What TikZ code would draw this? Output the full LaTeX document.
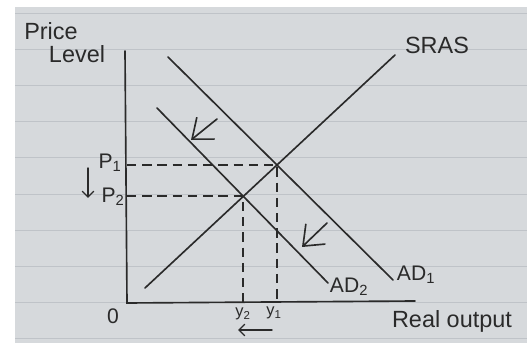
\documentclass[tikz,border=0pt]{standalone}
\usepackage{fontspec}
\setmainfont{Liberation Sans}
\usetikzlibrary{arrows.meta}
\definecolor{paper}{HTML}{D6D9DC}
\definecolor{ruling}{HTML}{BFC3C8}
\definecolor{ink}{HTML}{2A2A2A}

\begin{document}
\begin{tikzpicture}[
    x=0.03cm, y=-0.03cm,
    curve/.style={draw=ink, line width=1.4pt, line cap=round},
    guide/.style={draw=ink, line width=1.5pt, dash pattern=on 8pt off 5pt},
    move/.style={curve, -{Straight Barb[length=15pt, width=24pt]}},
    hint/.style={curve, line width=1.2pt, -{Straight Barb[length=5pt, width=10pt]}},
    lbl/.style={text=ink, inner sep=0pt, font=\fontsize{18}{18}\selectfont},
    title/.style={lbl, font=\fontsize{20}{20}\selectfont},
    tiny/.style={lbl, font=\fontsize{14}{14}\selectfont},
]
    \useasboundingbox (0,0) rectangle (531,343);
    \fill[paper] (15,7) rectangle (527,343);
    \foreach \k in {0,...,9}
        \draw[ruling, line width=0.8pt] (15,{13+36.2*\k}) -- (527,{13+36.2*\k});

    \coordinate (ytop) at (125,51);
    \coordinate (orig) at (127,303);
    \coordinate (xend) at (415,301);
    \coordinate (ad1a) at (168,57);  \coordinate (ad1b) at (393,280);
    \coordinate (ad2a) at (157,108); \coordinate (ad2b) at (328,283);
    \coordinate (sra) at (145,288);  \coordinate (srb) at (395,55);
    \coordinate (e1) at (intersection of ad1a--ad1b and sra--srb);
    \coordinate (e2) at (intersection of ad2a--ad2b and sra--srb);

    \node[title] (price) at (51,31) {Price};
    \node[title] (level) at (77,54) {Level};
    \node[title] (sras)  at (437,45) {SRAS};
    \node[lbl] (ad1) at (416,275) {AD\textsubscript{1}};
    \node[lbl] (ad2) at (349,287) {AD\textsubscript{2}};
    \node[lbl] (p1)  at (110,163) {P\textsubscript{1}};
    \node[lbl] (p2)  at (113,197) {P\textsubscript{2}};
    \node[lbl] (zero) at (113,316) {0};
    \node[tiny] (y2) at (243,314) {y\textsubscript{2}};
    \node[tiny] (y1) at (274,313) {y\textsubscript{1}};
    \node[title] (output) at (452,321) {Real output};

    \draw[curve] (ytop) -- (orig) -- (xend);
    \draw[curve] (ad1a) -- (ad1b);
    \draw[curve] (ad2a) -- (ad2b);
    \draw[curve] (sra) -- (srb);

    \draw[guide] (e1 -| orig) -- (e1) -- (e1 |- orig);
    \draw[guide] (e2 -| orig) -- (e2) -- (e2 |- orig);

    \draw[move] (217,119) coordinate (s1a) -- (191,140) coordinate (s1b);
    \draw[move] (327,223) coordinate (s2a) -- (302,247) coordinate (s2b);
    \draw[hint] (88,168) coordinate (pa) -- (88,198) coordinate (pb);
    \draw[hint] (272,330) coordinate (ya) -- (238,330) coordinate (yb);
\end{tikzpicture}
\end{document}
